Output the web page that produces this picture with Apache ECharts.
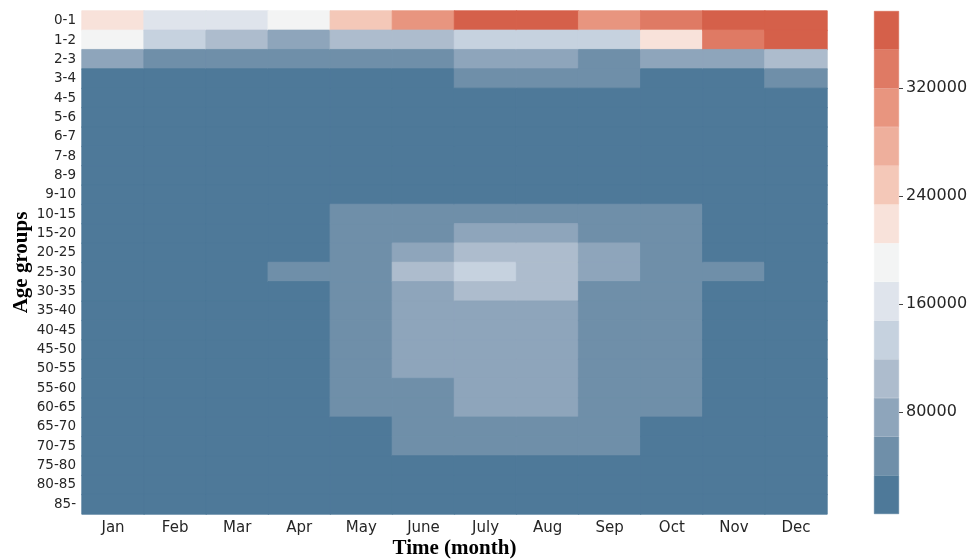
<!DOCTYPE html>
<html>
<head>
<meta charset="utf-8">
<script src="https://cdn.jsdelivr.net/npm/echarts@6/dist/echarts.min.js"></script>
<style>html,body{margin:0;padding:0;background:#fff}#c{width:974px;height:560px}</style>
</head>
<body>
<div id="c"></div>
<script>
const months = ['Jan','Feb','Mar','Apr','May','June','July','Aug','Sep','Oct','Nov','Dec'];
const ageGroups = ['0-1','1-2','2-3','3-4','4-5','5-6','6-7','7-8','8-9','9-10','10-15','15-20','20-25','25-30','30-35','35-40','40-45','45-50','50-55','55-60','60-65','65-70','70-75','75-80','80-85','85-'];

// values per month, one entry per age group (top to bottom)
const jan  = [218000,191000,77000,28000,25000,24000,23000,22000,21000,21000,24000,26000,28000,29000,28000,27000,26000,25000,24000,22000,19000,16000,13000,10000,8000,5000];
const feb  = [162000,133000,47000,22000,20000,19000,18000,18000,17000,17000,20000,23000,26000,28000,27000,26000,25000,24000,23000,21000,18000,15000,12000,9000,7000,4800];
const mar  = [161000,104000,46000,21000,19000,18000,18000,17000,17000,17000,21000,24000,27000,29000,28000,27000,26000,25000,24000,22000,19000,16000,13000,10000,7000,4600];
const apr  = [190000,76000,47000,24000,20000,19000,18000,18000,17000,18000,25000,29000,31000,36000,31000,30000,29000,28000,27000,25000,22000,18000,14000,10000,7000,4500];
const may  = [248000,105000,48000,27000,22000,20000,19000,19000,19000,20000,37000,45000,52000,55000,50000,48000,46000,44000,42000,40000,36000,30000,24000,16000,10000,5200];
const june = [305000,106000,50000,30000,24000,22000,21000,21000,21000,22000,40000,55000,77000,108000,80000,75000,73000,70000,65000,58000,50000,45000,38000,26000,14000,6000];
const july = [366000,134000,78000,45000,30000,27000,26000,26000,26000,28000,48000,72000,106000,140000,110000,85000,82000,80000,76000,72000,66000,55000,45000,30000,16000,6500];
const aug  = [362000,132000,76000,44000,29000,26000,25000,25000,25000,27000,47000,70000,104000,112000,107000,83000,80000,78000,75000,70000,64000,53000,44000,29000,15000,6200];
const sep  = [304000,131000,50000,42000,27000,24000,23000,23000,23000,25000,44000,52000,75000,78000,56000,54000,52000,50000,48000,46000,42000,40000,35000,24000,13000,5800];
const oct  = [333000,220000,75000,29000,24000,22000,21000,21000,21000,22000,38000,44000,50000,52000,47000,45000,43000,41000,39000,37000,34000,28000,22000,15000,10000,5000];
const nov  = [364000,335000,74000,30000,24000,22000,21000,20000,20000,21000,28000,30000,31000,38000,30000,29000,28000,27000,26000,24000,21000,18000,14000,11000,8000,4700];
const dec  = [377000,368000,104000,48000,27000,24000,22000,21000,21000,22000,26000,28000,29000,31000,29000,28000,27000,26000,25000,23000,20000,17000,13000,10000,7000,4400];
const monthValues = [jan,feb,mar,apr,may,june,july,aug,sep,oct,nov,dec];

// colour scale
const colorMin = 4400;
const colorMax = 377000;
const colorbarTicks = [80000,160000,240000,320000];
const binColors = ['#4e7999','#6f8fa9','#8ea5bb','#adbccd','#c6d2df','#dfe4ec','#f3f4f4','#f8e2da','#f4c8b8','#eeaf9c','#e8957f','#df7a64','#d5604a'];

const nBins = binColors.length;
const step = (colorMax - colorMin) / nBins;
const pieces = binColors.map((c, i) => ({ gte: colorMin + i * step, lt: colorMin + (i + 1) * step + (i === nBins - 1 ? 1 : 0), color: c }));
function binColor(v) {
  const i = Math.min(nBins - 1, Math.max(0, Math.floor((v - colorMin) / step)));
  return binColors[i];
}

const heatData = [];
monthValues.forEach((col, xi) => col.forEach((v, yi) => heatData.push({
  value: [xi, yi, v],
  itemStyle: { borderColor: binColor(v), borderWidth: 0.8 }
})));

const labelFont = 'DejaVu Sans';
const titleFont = 'Liberation Serif';
const txt = '#262626';

const series = [{
  type: 'heatmap',
  xAxisIndex: 0, yAxisIndex: 0,
  data: heatData,
  emphasis: { disabled: true },
  progressive: 0
}];
// colorbar: transparent base up to colorMin, then one stacked block per bin
series.push({ type: 'bar', xAxisIndex: 1, yAxisIndex: 1, stack: 'cb', data: [colorMin], barWidth: '100%', itemStyle: { color: 'rgba(0,0,0,0)' }, silent: true });
binColors.forEach(c => series.push({ type: 'bar', xAxisIndex: 1, yAxisIndex: 1, stack: 'cb', data: [step], barWidth: '100%', itemStyle: { color: c, borderColor: c, borderWidth: 0.5 }, silent: true }));

const chart = echarts.init(document.getElementById('c'), null, { renderer: 'canvas' });
chart.setOption({
  animation: false,
  backgroundColor: '#fff',
  grid: [
    { left: 82, top: 11, width: 745, height: 503, outerBoundsMode: 'none', containLabel: false },
    { left: 874, top: 11, width: 25, height: 503, outerBoundsMode: 'none', containLabel: false }
  ],
  xAxis: [{
    type: 'category', gridIndex: 0, data: months,
    axisLine: { show: false },
    axisTick: { alignWithLabel: true, length: 5, lineStyle: { color: '#444' } },
    axisLabel: { fontFamily: labelFont, fontSize: 15, color: txt, margin: 7 },
    splitLine: { show: false },
    name: 'Time (month)', nameLocation: 'middle', nameGap: 24, nameMoveOverlap: false,
    nameTextStyle: { fontFamily: titleFont, fontWeight: 'bold', fontSize: 21, color: '#000' }
  }, {
    type: 'category', gridIndex: 1, data: [''],
    show: false
  }],
  yAxis: [{
    type: 'category', gridIndex: 0, data: ageGroups, inverse: true,
    axisLine: { show: false },
    axisTick: { alignWithLabel: true, length: 4, lineStyle: { color: '#444' } },
    axisLabel: { fontFamily: labelFont, fontSize: 13.5, color: txt, margin: 6 },
    splitLine: { show: false },
    name: 'Age groups', nameLocation: 'middle', nameGap: 50, nameRotate: 90, nameMoveOverlap: false,
    nameTextStyle: { fontFamily: titleFont, fontWeight: 'bold', fontSize: 21, color: '#000' }
  }, {
    type: 'value', gridIndex: 1, position: 'right', min: colorMin, max: colorMax,
    axisLine: { show: false },
    axisTick: { show: true, length: 4, customValues: colorbarTicks, lineStyle: { color: '#444' } },
    axisLabel: { fontFamily: labelFont, fontSize: 16, color: txt, margin: 7, customValues: colorbarTicks, formatter: v => String(v) },
    splitLine: { show: false }
  }],
  visualMap: {
    type: 'piecewise', show: false, seriesIndex: 0, dimension: 2,
    pieces: pieces
  },
  series: series
});
</script>
</body>
</html>
